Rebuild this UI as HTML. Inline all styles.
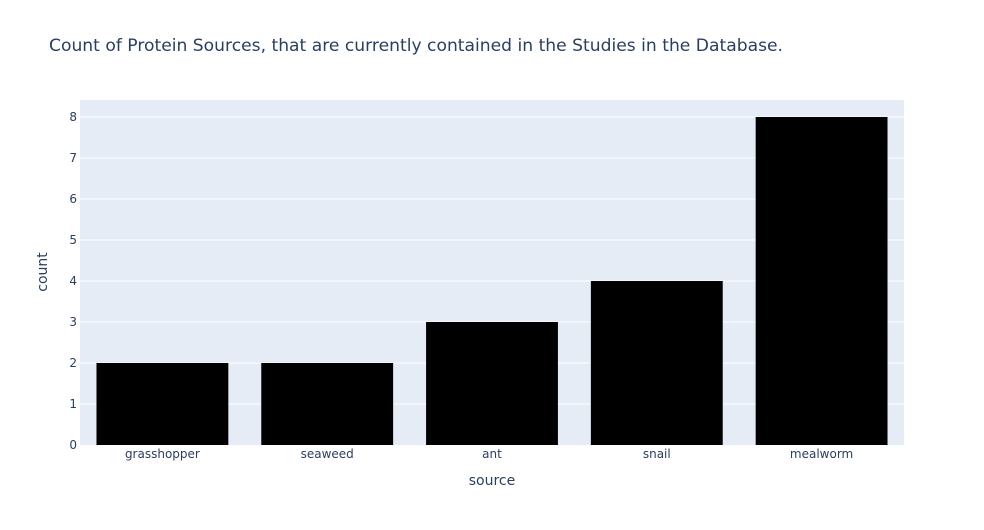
<!DOCTYPE html>
<html><head><meta charset="utf-8"><style>
body{margin:0;background:#fff;}
svg text{font-family:"DejaVu Sans","Liberation Sans",Arial,sans-serif;fill:#2a3f5f;}
</style></head><body>
<svg id="chart" width="984" height="525">
<text x="49" y="51" font-size="17" textLength="734" lengthAdjust="spacingAndGlyphs">Count of Protein Sources, that are currently contained in the Studies in the Database.</text>
<rect x="80" y="100" width="824" height="345" fill="#e5ecf6"/>
<g id="grid"></g><g id="bars"></g><g id="xt"></g><g id="yt"></g>
<text x="492" y="485" font-size="14" text-anchor="middle">source</text>
<text transform="translate(47,272) rotate(-90)" font-size="14" text-anchor="middle">count</text>
</svg>
<script>
const categories=["grasshopper","seaweed","ant","snail","mealworm"];
const counts=[2,2,3,4,8];
const yTicks=[0,1,2,3,4,5,6,7,8];
const NS="http://www.w3.org/2000/svg";
const x0=80,w=824,yb=445,ymax=8.415,h=345;
const y=v=>yb-v/ymax*h;
const band=w/categories.length;
const xc=i=>x0+band*(i+0.5);
function mk(t,a,p){const e=document.createElementNS(NS,t);for(const k in a)e.setAttribute(k,a[k]);document.getElementById(p).appendChild(e);return e;}
yTicks.forEach(v=>{
 if(v>0){const g=mk('line',{x1:x0,x2:x0+w,y1:y(v),y2:y(v),stroke:'#fff','stroke-width':1},'grid');
 
 }
 const t=mk('text',{x:x0-3,y:y(v)+4,'font-size':12,'text-anchor':'end'},'yt');t.textContent=v;
 
 
});
categories.forEach((c,i)=>{
 const bw=band*0.8;
 const r=mk('rect',{x:xc(i)-bw/2,y:y(counts[i]),width:bw,height:yb-y(counts[i]),fill:'#000'},'bars');
 
 
 const t=mk('text',{x:xc(i),y:yb+13,'font-size':12,'text-anchor':'middle'},'xt');t.textContent=c;
 
 
});
</script>
</body></html>
